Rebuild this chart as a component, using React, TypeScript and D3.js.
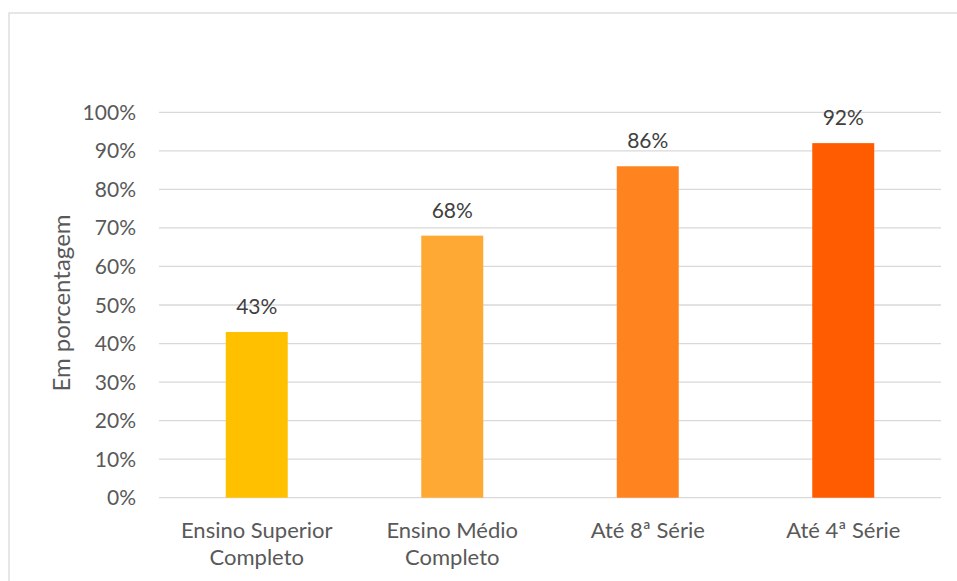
import React from "react";
import * as d3 from "d3";

const categories = ["Ensino Superior\nCompleto", "Ensino Médio\nCompleto", "Até 8ª Série", "Até 4ª Série"];
const values = [43, 68, 86, 92];
const colors = ["#FFC000", "#FFA935", "#FF8420", "#FF5B00"];
const yTicks = [0, 10, 20, 30, 40, 50, 60, 70, 80, 90, 100];
const yTitle = "Em porcentagem";

const W = 957;
const H = 581;
const plot = { left: 159, right: 941, top: 112.3, bottom: 497.7 };
const FONT = "Lato, 'Open Sans', sans-serif";
const TEXT = "#595959";

export default function App() {
  const x = d3
    .scaleBand<string>()
    .domain(categories)
    .range([plot.left, plot.right])
    .paddingInner(0.683)
    .paddingOuter(0.3415);
  const y = d3.scaleLinear().domain([0, 100]).range([plot.bottom, plot.top]);

  return (
    <svg
      width={W}
      height={H}
      style={{ position: "absolute", left: 0, top: 0, background: "#fff" }}
      fontFamily={FONT}
    >
      <rect x={9} y={13} width={W + 20} height={H + 20} fill="#fff" stroke="#D9D9D9" strokeWidth={1.3} />
      {yTicks.map((t) => (
        <g key={t}>
          <line x1={plot.left} x2={plot.right} y1={y(t)} y2={y(t)} stroke="#D9D9D9" strokeWidth={1.3} />
          <text x={136} y={y(t)} dy="0.36em" textAnchor="end" fontSize={21} fill={TEXT}>
            {t}%
          </text>
        </g>
      ))}
      {categories.map((c, i) => {
        const bx = x(c)!;
        const bw = x.bandwidth();
        const cx = bx + bw / 2;
        const lines = c.split("\n");
        return (
          <g key={c}>
            <rect x={bx} y={y(values[i])} width={bw} height={y(0) - y(values[i])} fill={colors[i]} />
            <text x={cx} y={y(values[i]) - 18} textAnchor="middle" fontSize={21} fill="#404040">
              {values[i]}%
            </text>
            {lines.map((l, j) => (
              <text key={j} x={cx} y={538 + j * 27} textAnchor="middle" fontSize={22} fill={TEXT}>
                {l}
              </text>
            ))}
          </g>
        );
      })}
      <text
        transform={`translate(70, ${(plot.top + plot.bottom) / 2 - 2}) rotate(-90)`}
        textAnchor="middle"
        fontSize={24}
        fill={TEXT}
      >
        {yTitle}
      </text>
    </svg>
  );
}
